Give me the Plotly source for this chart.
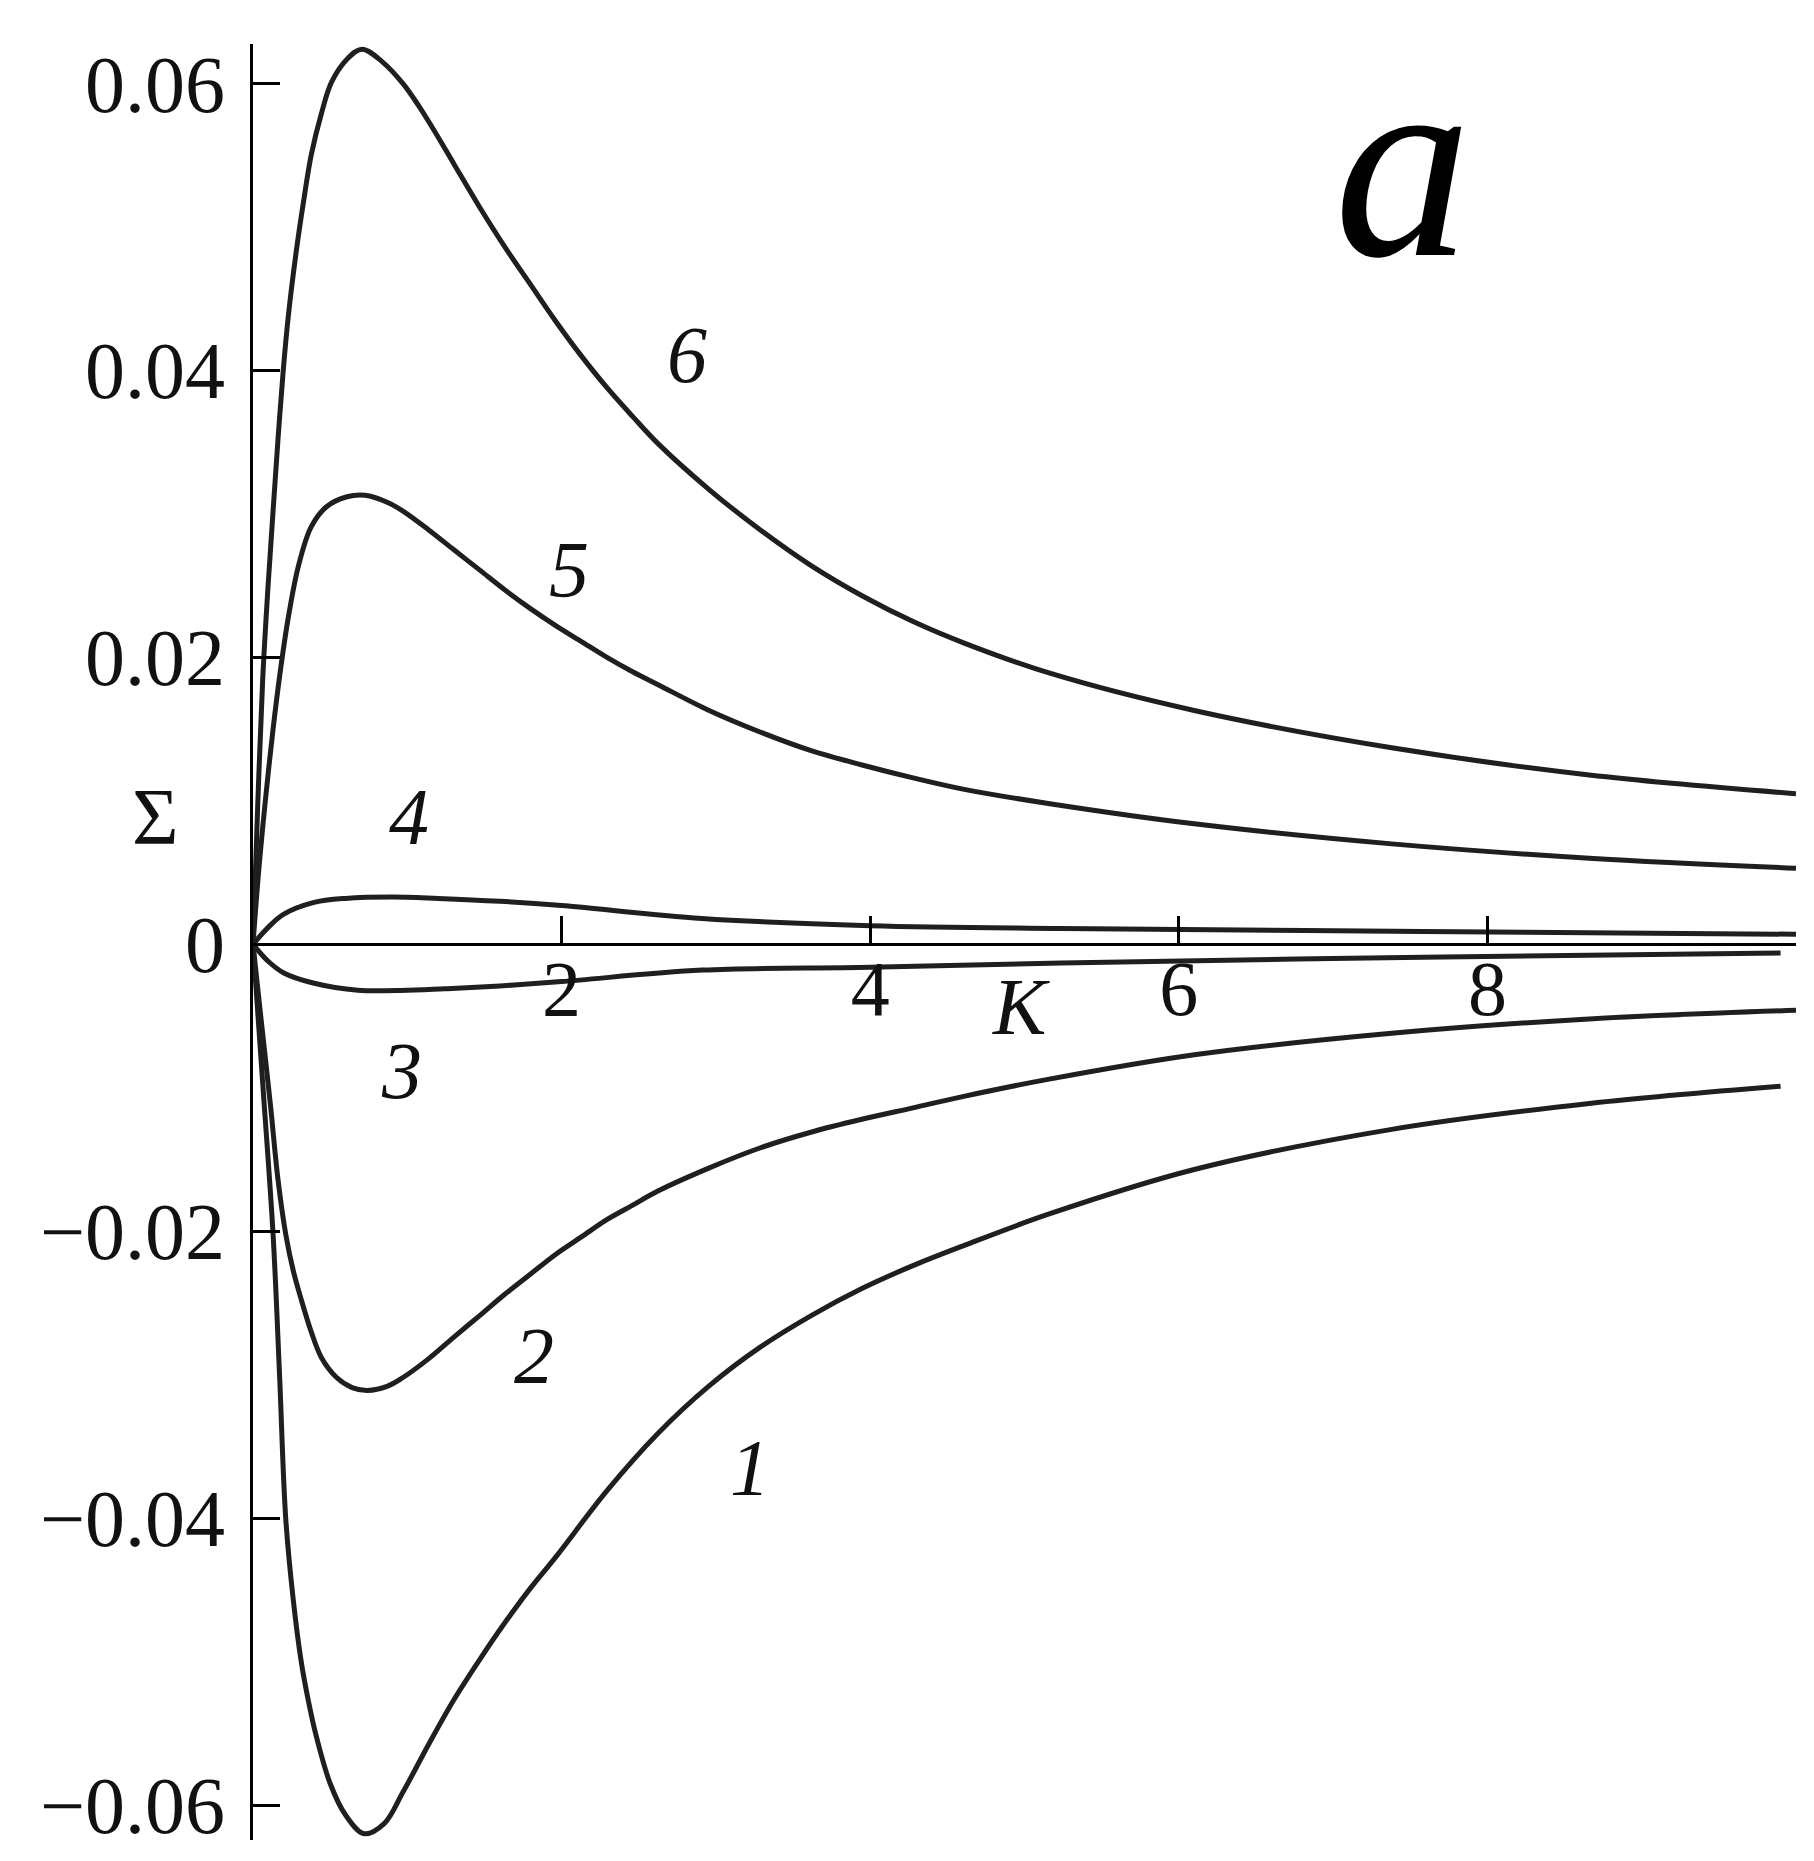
import plotly.graph_objects as go

# ---- data (K, Sigma) ----
K1 = [0, 0.065, 0.13, 0.172, 0.212, 0.26, 0.311, 0.36, 0.41, 0.50, 0.60, 0.72, 0.85, 0.972, 1.137, 1.30, 1.467, 1.632, 1.797, 1.963, 2.293, 2.624, 2.954, 3.285, 3.615, 3.946, 4.277, 4.607, 5.16, 6.1, 7.38, 8.66, 9.9]
S1 = [0, -0.0100, -0.0202, -0.0300, -0.0400, -0.0456, -0.0499, -0.0528, -0.0552, -0.0585, -0.0607, -0.0620, -0.0613, -0.0591, -0.0558, -0.0527, -0.0499, -0.0473, -0.0449, -0.0427, -0.0381, -0.0341, -0.0308, -0.0281, -0.0259, -0.0240, -0.0224, -0.0210, -0.0188, -0.0157, -0.0129, -0.0111, -0.0099]

K2 = [0, 0.05, 0.113, 0.162, 0.212, 0.262, 0.311, 0.377, 0.443, 0.542, 0.642, 0.741, 0.873, 0.972, 1.137, 1.30, 1.467, 1.632, 1.797, 1.963, 2.128, 2.293, 2.458, 2.624, 2.954, 3.285, 3.615, 3.946, 4.277, 4.607, 5.16, 6.1, 7.38, 8.66, 10.0]
S2 = [0, -0.0050, -0.0112, -0.0164, -0.0202, -0.0228, -0.0247, -0.0270, -0.0288, -0.0302, -0.0309, -0.0311, -0.0308, -0.0302, -0.0289, -0.0274, -0.0259, -0.0244, -0.0230, -0.0216, -0.0204, -0.0192, -0.0182, -0.0172, -0.0156, -0.0142, -0.0131, -0.0122, -0.0114, -0.0106, -0.0094, -0.0077, -0.0062, -0.0052, -0.0046]

K3 = [0, 0.1, 0.2, 0.39, 0.68, 1.0, 1.26, 1.6, 2.0, 2.91, 4.0, 5.24, 7.58, 9.9]
S3 = [0, -0.0012, -0.0020, -0.0027, -0.0032, -0.0032, -0.0031, -0.0029, -0.0026, -0.0018, -0.0016, -0.0013, -0.0009, -0.0006]

K4 = [0, 0.1, 0.2, 0.39, 0.6, 0.9, 1.2, 1.6, 2.0, 2.91, 4.0, 5.24, 7.58, 10.0]
S4 = [0, 0.0012, 0.0021, 0.0029, 0.0032, 0.0033, 0.0032, 0.0030, 0.0027, 0.0018, 0.0013, 0.0011, 0.0009, 0.0007]

K5 = [0, 0.04, 0.08, 0.13, 0.179, 0.229, 0.295, 0.377, 0.476, 0.609, 0.726, 0.873, 0.972, 1.137, 1.302, 1.468, 1.633, 1.798, 1.964, 2.129, 2.294, 2.460, 2.625, 2.956, 3.286, 3.617, 3.947, 4.278, 4.609, 5.164, 6.1, 7.38, 8.66, 10.0]
S5 = [0, 0.0055, 0.0100, 0.0150, 0.0192, 0.0228, 0.0264, 0.0291, 0.0305, 0.0312, 0.0313, 0.0308, 0.0302, 0.0289, 0.0275, 0.0261, 0.0247, 0.0234, 0.0222, 0.0211, 0.0200, 0.0190, 0.0181, 0.0163, 0.0148, 0.0135, 0.0125, 0.0116, 0.0108, 0.0098, 0.0084, 0.0070, 0.0060, 0.0053]

K6 = [0, 0.03, 0.063, 0.0965, 0.13, 0.162, 0.196, 0.229, 0.279, 0.328, 0.377, 0.443, 0.509, 0.609, 0.706, 0.84, 0.972, 1.071, 1.170, 1.302, 1.468, 1.633, 1.798, 1.964, 2.129, 2.294, 2.460, 2.625, 2.956, 3.286, 3.617, 3.947, 4.278, 4.609, 5.164, 6.1, 7.38, 8.66, 10.0]
S6 = [0, 0.0095, 0.0185, 0.0248, 0.0302, 0.0352, 0.0400, 0.0438, 0.0482, 0.0518, 0.0550, 0.0579, 0.0601, 0.0617, 0.0624, 0.0615, 0.0600, 0.0585, 0.0568, 0.0544, 0.0514, 0.0486, 0.0460, 0.0434, 0.0410, 0.0388, 0.0368, 0.0349, 0.0317, 0.0289, 0.0264, 0.0243, 0.0225, 0.0210, 0.0189, 0.0163, 0.0137, 0.0118, 0.0105]

curve_names = ["1", "2", "3", "4", "5", "6"]
label_K = [3.22, 1.82, 0.96, 1.01, 2.05, 2.81]
label_S = [-0.0365, -0.0287, -0.0088, 0.0089, 0.0261, 0.0411]

x_tickvals = [2, 4, 6, 8, 10]
x_ticktext = ["2", "4", "6", "8", ""]
y_tickvals = [-0.06, -0.04, -0.02, 0, 0.02, 0.04, 0.06]
y_ticktext = ["\u22120.06", "\u22120.04", "\u22120.02", "0", "0.02", "0.04", "0.06"]

X_RANGE = [0, 10]
Y_RANGE = [-0.06244, 0.06276]

SERIF = "Liberation Serif"
LINE_COLOR = "#1f1f1f"

fig = go.Figure()
for K, S, name in zip([K1, K2, K3, K4, K5, K6], [S1, S2, S3, S4, S5, S6], curve_names):
    fig.add_trace(go.Scatter(
        x=K, y=S, mode="lines", name=name,
        line=dict(color=LINE_COLOR, width=5, shape="spline", smoothing=1.0, simplify=False),
        hoverinfo="skip",
    ))

# curve numbers
for name, kx, sy in zip(curve_names, label_K, label_S):
    fig.add_annotation(x=kx, y=sy, text=f"<i>{name}</i>", showarrow=False,
                       font=dict(family=SERIF, size=80, color="#111"),
                       xanchor="center", yanchor="middle")

# axis titles
fig.add_annotation(xref="paper", x=-0.0635, y=0.0089, text="\u03a3", showarrow=False,
                   font=dict(family=SERIF, size=80, color="#111"),
                   xanchor="center", yanchor="middle")
fig.add_annotation(x=4.98, y=-0.0044, text="<i>K</i>", showarrow=False,
                   font=dict(family=SERIF, size=80, color="#111"),
                   xanchor="center", yanchor="middle")
# panel letter
fig.add_annotation(x=7.45, y=0.0545, text="<i>a</i>", showarrow=False,
                   font=dict(family=SERIF, size=275, color="black"),
                   xanchor="center", yanchor="middle")

zero_frac = (0 - Y_RANGE[0]) / (Y_RANGE[1] - Y_RANGE[0])

# page body has an 8px default margin -> figure sized to fit the window
fig.update_layout(
    width=1798, height=1845,
    margin=dict(l=245, r=10, t=36, b=13),
    paper_bgcolor="white", plot_bgcolor="white",
    showlegend=False,
)
fig.update_xaxes(
    range=X_RANGE, anchor="free", position=zero_frac,
    showline=True, linecolor="black", linewidth=3,
    ticks="inside", ticklen=27, tickwidth=3, tickcolor="black",
    tickvals=x_tickvals, ticktext=x_ticktext,
    tickfont=dict(family=SERIF, size=78, color="#111"),
    ticklabelstandoff=-25,
    showgrid=False, zeroline=False, automargin=False,
)
fig.update_yaxes(
    range=Y_RANGE,
    showline=True, linecolor="black", linewidth=3,
    ticks="inside", ticklen=27, tickwidth=3, tickcolor="black",
    tickvals=y_tickvals, ticktext=y_ticktext,
    tickfont=dict(family=SERIF, size=80, color="#111"),
    ticklabelstandoff=9,
    showgrid=False, zeroline=False, automargin=False,
)

fig.write_html("out.html")
